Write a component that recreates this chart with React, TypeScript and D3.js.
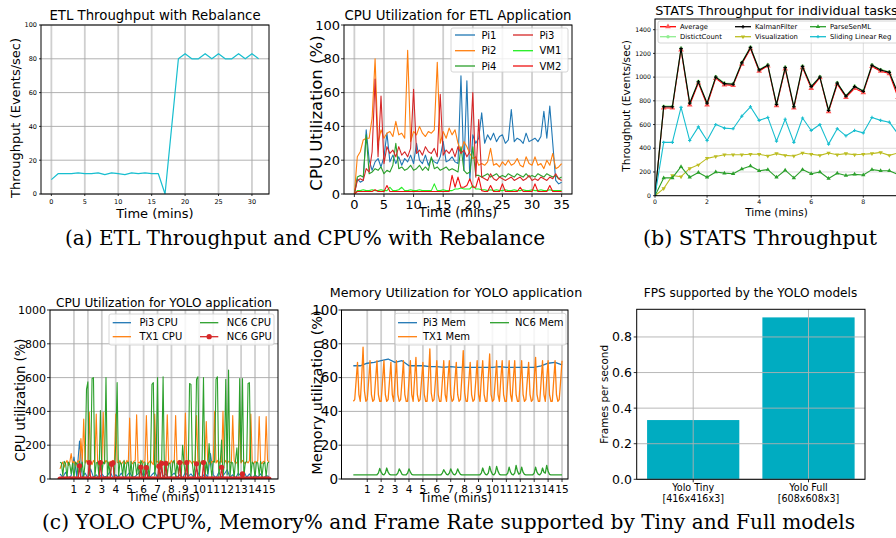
import React from "react";
import * as d3 from "d3";

const SANS = "'DejaVu Sans', 'Liberation Sans', sans-serif";
const SERIF = "'DejaVu Serif', 'Liberation Serif', serif";

// ---- (a) left: ETL throughput, one value per minute
const etlThroughput = [8.5, 12, 12, 12, 12.5, 12, 12, 12.5, 11.5, 12.5, 12, 11.5, 12.5, 12, 12.5, 12, 12, 0, 40, 80, 83, 80, 80, 83, 80, 83, 80, 80, 83, 80, 83, 80];

// ---- (a) right: CPU % for ETL, one value every 0.5 min
const cpuPi1 = [
  0, 9, 7, 8, 38, 20, 14, 19, 21, 16,
  22, 36, 19, 23, 18, 22, 17, 21, 19, 23,
  18, 30, 20, 18, 23, 17, 21, 19, 18, 22,
  31, 19, 20, 22, 19, 18, 70, 14, 67, 8,
  35, 30, 33, 48, 30, 35, 32, 36, 31, 34,
  35, 30, 32, 50, 31, 33, 32, 30, 36, 31,
  32, 33, 31, 34, 49, 33, 52, 30, 8, 6,
  7];
const cpuPi2 = [
  0, 22, 25, 32, 33, 33, 45, 80, 30, 38,
  33, 36, 37, 34, 43, 35, 36, 33, 85, 31,
  37, 35, 40, 36, 34, 37, 36, 38, 78, 30,
  37, 33, 39, 35, 38, 30, 25, 31, 28, 24,
  21, 22, 17, 18, 17, 19, 27, 17, 18, 16,
  19, 17, 20, 17, 18, 21, 17, 16, 22, 18,
  17, 22, 17, 18, 15, 20, 17, 24, 15, 16,
  18];
const cpuPi4 = [
  0, 10, 11, 10, 35, 12, 13, 15, 14, 16,
  12, 14, 13, 17, 30, 15, 16, 14, 15, 17,
  14, 15, 17, 14, 16, 14, 22, 15, 16, 14,
  15, 16, 14, 15, 14, 13, 28, 14, 12, 13,
  28, 11, 11, 10, 11, 12, 10, 11, 12, 10,
  11, 10, 12, 11, 10, 12, 11, 10, 12, 10,
  11, 10, 12, 11, 10, 12, 11, 10, 11, 9,
  10];
const cpuPi3 = [
  0, 8, 9, 8, 15, 13, 25, 68, 22, 58,
  18, 28, 24, 26, 22, 28, 23, 25, 22, 27,
  62, 24, 26, 23, 28, 25, 24, 27, 22, 59,
  23, 26, 24, 27, 22, 28, 24, 26, 22, 25,
  60, 10, 44, 10, 9, 8, 12, 9, 8, 10,
  9, 8, 9, 10, 8, 9, 10, 8, 9, 11,
  8, 9, 8, 10, 9, 8, 10, 9, 12, 9,
  8];
const cpuVM1 = [
  0, 2, 2, 2.5, 2, 2, 2.5, 2, 2, 2.5,
  2, 2, 4, 2, 2, 2.5, 4, 2, 2, 2.5,
  2, 2, 2.5, 2, 2, 2, 2, 6, 2, 2,
  2.5, 2, 2, 2, 3, 3, 3.5, 3, 3, 3,
  5, 3, 3, 2.5, 2.5, 2, 2.5, 2, 2.5, 2,
  2, 2.5, 2, 2, 2.5, 2, 2, 2.5, 2, 2,
  2.5, 2, 2, 2.5, 2, 2, 2.5, 2, 2, 2,
  2];
const cpuVM2 = [
  0, 1.5, 1.5, 1.5, 1.5, 1.5, 1.5, 2.5, 1.5, 1.5,
  1.5, 5, 1.5, 1.5, 1.5, 1.5, 1.5, 1.5, 1.5, 1.5,
  1.5, 1.5, 1.5, 1.5, 1.5, 1.5, 1.5, 1.5, 1.5, 1.5,
  1.5, 1.5, 1.5, 11, 4, 10, 4, 4, 5, 9,
  4, 4, 10, 2, 1.5, 1.5, 5, 1.5, 1.5, 1.5,
  6, 1.5, 1.5, 1.5, 1.5, 1.5, 4, 1.5, 1.5, 1.5,
  1.5, 6, 1.5, 1.5, 1.5, 1.5, 5, 1.5, 1.5, 1.5,
  1.5];

// ---- (b) STATS throughput, one value every 20 s
const statsAverage = [0, 740, 740, 1230, 765, 950, 765, 990, 935, 930, 1110, 1240, 1050, 1095, 760, 1070, 740, 1080, 905, 995, 710, 940, 830, 905, 870, 1090, 1050, 1030, 830];
const statsDistinct = [0, 755, 755, 1245, 785, 965, 785, 1005, 950, 945, 1125, 1255, 1065, 1105, 775, 1085, 755, 1095, 925, 1005, 725, 955, 845, 925, 885, 1105, 1065, 1045, 865];
const statsKalman = [0, 750, 750, 1240, 780, 960, 780, 1000, 945, 940, 1120, 1250, 1060, 1100, 770, 1080, 750, 1090, 920, 1000, 720, 950, 840, 920, 880, 1100, 1060, 1040, 860];
const statsVisual = [0, 60, 170, 160, 230, 260, 315, 330, 345, 345, 345, 350, 350, 335, 355, 340, 335, 360, 350, 340, 360, 345, 355, 345, 350, 355, 365, 340, 360];
const statsParse = [0, 150, 150, 245, 155, 195, 155, 200, 190, 185, 225, 250, 210, 220, 155, 215, 150, 220, 185, 200, 145, 190, 170, 180, 175, 220, 210, 210, 180];
const statsSliding = [0, 450, 450, 745, 465, 580, 465, 600, 570, 565, 670, 750, 635, 660, 460, 645, 450, 655, 550, 600, 435, 565, 505, 550, 530, 660, 635, 620, 520];

// ---- (c) YOLO CPU %, one value every 0.1 min (Pi3 every 0.2 min)
const yoloNc6Cpu = [
  100, 95, 20, 105, 90, 10, 100, 85, 30, 95,
  5, 100, 90, 15, 105, 40, 100, 10, 95, 530,
  575, 20, 100, 595, 600, 10, 95, 100, 5, 405,
  30, 100, 90, 600, 10, 100, 20, 95, 105, 15,
  210, 570, 5, 100, 90, 20, 110, 10, 95, 100,
  15, 105, 0, 95, 100, 25, 90, 5, 110, 95,
  10, 100, 30, 95, 5, 105, 560, 570, 20, 100,
  600, 10, 95, 100, 605, 0, 105, 20, 95, 90,
  5, 100, 110, 15, 95, 30, 100, 5, 200, 95,
  20, 105, 10, 565, 560, 95, 15, 100, 590, 605,
  20, 95, 110, 600, 5, 100, 30, 210, 95, 10,
  105, 100, 590, 605, 15, 95, 230, 10, 100, 590,
  25, 645, 10, 100, 95, 5, 110, 185, 20, 595,
  100, 595, 10, 95, 105, 565, 570, 15, 100, 90,
  5, 100, 95, 20, 105, 10, 90, 100, 15, 95,
  100];
const yoloTx1Cpu = [
  60, 85, 100, 70, 95, 110, 80, 100, 150, 90,
  105, 80, 95, 110, 85, 240, 100, 355, 95, 110,
  90, 395, 100, 85, 110, 95, 385, 100, 80, 105,
  95, 395, 90, 110, 100, 85, 105, 95, 110, 90,
  385, 100, 95, 110, 85, 100, 105, 90, 110, 95,
  360, 100, 90, 105, 110, 380, 95, 100, 85, 110,
  95, 105, 375, 90, 100, 110, 95, 85, 385, 100,
  105, 90, 110, 100, 95, 85, 105, 380, 100, 90,
  110, 95, 100, 375, 90, 105, 110, 95, 100, 85,
  390, 105, 95, 110, 100, 90, 105, 95, 375, 100,
  110, 90, 105, 95, 100, 340, 110, 95, 85, 105,
  100, 400, 95, 110, 90, 105, 100, 400, 95, 110,
  90, 105, 100, 95, 375, 110, 90, 100, 105, 400,
  95, 110, 100, 90, 105, 95, 110, 385, 100, 90,
  105, 95, 110, 370, 100, 90, 105, 95, 370, 110,
  100];
const yoloPi3Cpu = [
  30, 10, 40, 5, 20, 130, 15, 225, 10, 35,
  5, 60, 10, 25, 5, 30, 10, 20, 45, 5,
  25, 10, 35, 5, 20, 40, 10, 15, 30, 55,
  10, 60, 5, 25, 40, 10, 70, 15, 30, 5,
  20, 35, 10, 25, 5, 40, 15, 30, 10, 60,
  20, 5, 35, 10, 150, 25, 5, 40, 10, 30,
  55, 10, 25, 5, 35, 15, 45, 10, 30, 5,
  25, 10, 30, 5, 20, 15];
const yoloNc6Gpu = [
  0, 0, 0, 0, 0, 0, 0, 0, 0, 0,
  0, 0, 0, 0, 78, 0, 0, 0, 0, 0,
  0, 97, 0, 0, 0, 0, 0, 0, 0, 97,
  0, 0, 0, 0, 0, 0, 0, 88, 95, 0,
  0, 0, 0, 0, 0, 0, 0, 0, 0, 0,
  0, 0, 0, 0, 0, 0, 0, 0, 70, 0,
  0, 0, 67, 0, 0, 0, 0, 0, 0, 0,
  0, 76, 0, 93, 0, 0, 92, 0, 0, 0,
  0, 0, 0, 0, 0, 0, 97, 0, 0, 0,
  0, 97, 0, 0, 0, 0, 0, 0, 90, 0,
  0, 0, 0, 97, 0, 0, 0, 0, 0, 0,
  0, 0, 0, 0, 0, 0, 69, 0, 0, 0,
  0, 0, 0, 0, 0, 0, 0, 0, 0, 0,
  0, 30, 0, 0, 0, 0, 0, 0, 0, 0,
  0, 0, 0, 0, 0, 0, 0, 0, 0, 0,
  0];

// ---- (c) YOLO memory %, every 0.1 min (Pi3 every 0.5 min)
const memTx1 = [
  46, 47, 58, 69, 50, 46, 60, 78, 52, 46,
  47, 58, 70, 50, 46, 47, 59, 70, 50, 46,
  46, 58, 70, 50, 46, 47, 58, 69, 50, 46,
  59, 70, 50, 46, 47, 58, 70, 50, 46, 46,
  58, 70, 50, 46, 59, 72, 50, 46, 47, 58,
  69, 50, 46, 46, 60, 77, 51, 46, 47, 58,
  70, 50, 46, 46, 58, 70, 50, 46, 59, 70,
  50, 46, 47, 58, 69, 50, 46, 47, 60, 76,
  51, 46, 46, 58, 69, 50, 46, 47, 58, 70,
  50, 46, 59, 70, 50, 46, 46, 60, 74, 50,
  46, 47, 58, 70, 50, 46, 59, 70, 50, 46,
  46, 58, 70, 50, 46, 59, 70, 50, 46, 46,
  58, 70, 50, 46, 47, 58, 69, 50, 46, 47,
  59, 72, 50, 46, 46, 58, 70, 50, 46, 59,
  70, 50, 46, 46, 58, 70, 50, 46, 47, 58,
  70];
const memPi3 = [67, 67, 68.5, 69, 70, 71, 69, 70, 67, 67, 67, 66.5, 66.5, 66, 66.5, 66, 66, 66, 66, 66, 66, 66.5, 66, 66, 66, 66, 66, 67, 68.5, 69, 67.5];
const memNc6 = [
  2.5, 2.5, 2.5, 2.5, 2.5, 2.5, 2.5, 2.5, 2.5, 2.5,
  2.5, 2.5, 2.5, 2.5, 2.5, 2.5, 2.5, 2.5, 3.5, 6.3,
  4, 2.8, 2.5, 3.5, 6.5, 4, 2.8, 2.5, 2.5, 2.5,
  2.5, 2.5, 3.5, 6, 4.5, 2.8, 2.5, 2.5, 2.5, 3.5,
  6, 4, 2.8, 2.5, 2.5, 2.5, 2.5, 2.5, 2.5, 2.5,
  2.5, 2.5, 2.5, 2.5, 2.5, 2.5, 2.5, 2.5, 2.5, 2.5,
  2.5, 2.5, 2.5, 2.5, 3.5, 5.5, 4, 2.8, 2.5, 3.5,
  6, 4, 2.8, 2.5, 3.5, 6, 4, 2.8, 2.5, 2.5,
  2.5, 2.5, 2.5, 2.5, 2.5, 2.5, 2.5, 2.5, 2.5, 2.5,
  2.5, 2.5, 3.5, 6.5, 4, 2.8, 2.5, 3.5, 7.5, 4.5,
  2.8, 2.5, 3.5, 7.5, 4.5, 2.8, 2.5, 2.5, 2.5, 2.5,
  2.5, 3.5, 7, 4, 2.8, 2.5, 3.5, 8, 4.5, 2.8,
  3.5, 7, 4, 2.8, 2.5, 2.5, 2.5, 2.5, 2.5, 2.5,
  3.5, 7, 4, 2.8, 2.5, 3.5, 6.5, 4, 3.5, 8,
  4.5, 2.8, 2.5, 2.5, 2.5, 2.5, 2.5, 2.5, 2.5, 2.5,
  2.5];

// ---- (c) FPS bars
const fpsModels = ["Yolo Tiny", "Yolo Full"];
const fpsShapes = ["[416x416x3]", "[608x608x3]"];
const fpsValues = [0.333, 0.91];

const step = (vals: number[], dt: number) => vals.map((v, i) => [i * dt, v]);

type Box = { l: number; r: number; t: number; b: number };

function Txt({ x, y, size, children, anchor = "middle", family = SANS, rotate = false, len }: any) {
  return (
    <text
      x={rotate ? 0 : x}
      y={rotate ? 0 : y}
      transform={rotate ? `translate(${x},${y}) rotate(-90)` : undefined}
      fontSize={size}
      fontFamily={family}
      textAnchor={anchor}
      fill="#000"
      textLength={len}
      lengthAdjust={len ? "spacingAndGlyphs" : undefined}
    >
      {children}
    </text>
  );
}

function Axes({ id, box, x, y, xTicks, yTicks, xLabels, yLabels, xFont, yFont, xTickBase, yTickRight, tickLen, vGrid, hGrid, gridOnTop, children }: any) {
  const grid = (
    <g>
      {xTicks.map((t: number) => (
        <line key={"v" + t} x1={x(t)} x2={x(t)} y1={box.t} y2={box.b} stroke={vGrid[0]} strokeWidth={vGrid[1]} />
      ))}
      {yTicks.map((t: number) => (
        <line key={"h" + t} x1={box.l} x2={box.r} y1={y(t)} y2={y(t)} stroke={hGrid[0]} strokeWidth={hGrid[1]} />
      ))}
    </g>
  );
  return (
    <g>
      <defs>
        <clipPath id={id}>
          <rect x={box.l} y={box.t} width={box.r - box.l} height={box.b - box.t} />
        </clipPath>
      </defs>
      {!gridOnTop && grid}
      <g clipPath={`url(#${id})`}>{children}</g>
      {gridOnTop && grid}
      <rect x={box.l} y={box.t} width={box.r - box.l} height={box.b - box.t} fill="none" stroke="#000" strokeWidth={1} />
      {xTicks.map((t: number, i: number) => (
        <g key={"xt" + i}>
          <line x1={x(t)} x2={x(t)} y1={box.b} y2={box.b + tickLen} stroke="#000" strokeWidth={0.8} />
          {xLabels[i] !== undefined && (
            <Txt x={x(t)} y={xTickBase} size={xFont}>{xLabels[i]}</Txt>
          )}
        </g>
      ))}
      {yTicks.map((t: number, i: number) => (
        <g key={"yt" + i}>
          <line x1={box.l - tickLen} x2={box.l} y1={y(t)} y2={y(t)} stroke="#000" strokeWidth={0.8} />
          <Txt x={yTickRight} y={y(t) + yFont * 0.36} size={yFont} anchor="end">{yLabels[i]}</Txt>
        </g>
      ))}
    </g>
  );
}

function Series({ pts, x, y, color, width = 1.2 }: any) {
  const d = d3.line<number[]>().x((p) => x(p[0])).y((p) => y(p[1]))(pts) ?? "";
  return <path d={d} fill="none" stroke={color} strokeWidth={width} strokeLinejoin="round" />;
}

function Legend({ frame, items, colX, rowY, lineLen, gap, size }: any) {
  const nrows = rowY.length;
  return (
    <g>
      <rect x={frame[0]} y={frame[1]} width={frame[2] - frame[0]} height={frame[3] - frame[1]} rx={2} fill="#fff" fillOpacity={0.8} stroke="#cccccc" strokeWidth={0.8} />
      {items.map((it: any, i: number) => {
        const c = Math.floor(i / nrows);
        const r = i % nrows;
        const x0 = colX[c];
        const yy = rowY[r];
        return (
          <g key={i}>
            <line x1={x0} x2={x0 + lineLen} y1={yy} y2={yy} stroke={it.color} strokeWidth={1.3} />
            {it.mark && (
              <path d={it.mark} transform={`translate(${x0 + lineLen / 2},${yy}) rotate(${it.rot || 0})`} fill={it.mcolor || it.color} />
            )}
            <Txt x={x0 + lineLen + gap} y={yy + size * 0.36} size={size} anchor="start">{it.label}</Txt>
          </g>
        );
      })}
    </g>
  );
}

const tri = (s: number) => d3.symbol(d3.symbolTriangle, s)() as string;
const crs = (s: number) => d3.symbol(d3.symbolCross, s)() as string;
const dot = (s: number) => d3.symbol(d3.symbolCircle, s)() as string;

export default function App() {
  // (a) ETL throughput
  const B1: Box = { l: 41, r: 269, t: 25, b: 194 };
  const x1 = d3.scaleLinear().domain([-1.55, 32.55]).range([B1.l, B1.r]);
  const y1 = d3.scaleLinear().domain([0, 100]).range([B1.b, B1.t]);

  // (a) ETL CPU
  const B2: Box = { l: 344, r: 572, t: 25, b: 194 };
  const x2 = d3.scaleLinear().domain([-1.75, 36.75]).range([B2.l, B2.r]);
  const y2 = d3.scaleLinear().domain([0, 100]).range([B2.b, B2.t]);
  const etlSeries = [
    { label: "Pi1", vals: cpuPi1, color: "#1f77b4" },
    { label: "Pi2", vals: cpuPi2, color: "#ff7f0e" },
    { label: "Pi4", vals: cpuPi4, color: "#2ca02c" },
    { label: "Pi3", vals: cpuPi3, color: "#d62728" },
    { label: "VM1", vals: cpuVM1, color: "#22ee22" },
    { label: "VM2", vals: cpuVM2, color: "#ee1111" },
  ];

  // (b) STATS
  const B3: Box = { l: 655, r: 898, t: 19, b: 195.7 };
  const x3 = d3.scaleLinear().domain([0, 28 / 3]).range([B3.l, B3.r]);
  const y3 = d3.scaleLinear().domain([0, 1490]).range([B3.b, B3.t]);
  const statsSeries = [
    { label: "Average", vals: statsAverage, color: "#ff0000", mark: tri(14), mcolor: "#ff5555" },
    { label: "DistictCount", vals: statsDistinct, color: "#90ee90", mark: dot(9) },
    { label: "KalmanFilter", vals: statsKalman, color: "#000000", mark: crs(7) },
    { label: "Visualization", vals: statsVisual, color: "#bcbd22", mark: tri(8), rot: 180 },
    { label: "ParseSenML", vals: statsParse, color: "#2ca02c", mark: tri(8) },
    { label: "Sliding Linear Reg", vals: statsSliding, color: "#17becf", mark: crs(6) },
  ];

  // (c) YOLO CPU
  const B4: Box = { l: 50, r: 278, t: 310, b: 479 };
  const x4 = d3.scaleLinear().domain([-0.72, 15.65]).range([B4.l, B4.r]);
  const y4 = d3.scaleLinear().domain([0, 1000]).range([B4.b, B4.t]);
  const minuteTicks = d3.range(1, 16);

  // (c) YOLO memory
  const B5: Box = { l: 341.5, r: 568, t: 310, b: 479 };
  const x5 = d3.scaleLinear().domain([-0.85, 15.43]).range([B5.l, B5.r]);
  const y5 = d3.scaleLinear().domain([0, 100]).range([B5.b, B5.t]);

  // (c) FPS
  const B6: Box = { l: 636.7, r: 865, t: 309.3, b: 479.3 };
  const x6 = d3.scaleLinear().domain([-0.49, 1.49]).range([B6.l, B6.r]);
  const y6 = d3.scaleLinear().domain([0, 0.9555]).range([B6.b, B6.t]);

  const pct = [0, 20, 40, 60, 80, 100];
  const vThick = ["#cfcfcf", 1.8];
  const hThin = ["#a9a9a9", 0.9];

  return (
    <svg width={896} height={538} style={{ position: "absolute", left: 0, top: 0, background: "#fff" }}>
      <rect width={896} height={538} fill="#fff" />

      {/* ---------- (a) ETL throughput ---------- */}
      <Txt x={155} y={19.5} size={13.3}>ETL Throughput with Rebalance</Txt>
      <Axes id="c1" box={B1} x={x1} y={y1} xTicks={[0, 5, 10, 15, 20, 25, 30]} yTicks={pct}
        xLabels={["0", "5", "10", "15", "20", "25", "30"]} yLabels={pct.map(String)}
        xFont={6.5} yFont={6.5} xTickBase={204} yTickRight={37} tickLen={2} vGrid={vThick} hGrid={hThin}>
        <Series pts={step(etlThroughput, 1)} x={x1} y={y1} color="#17becf" width={1.2} />
      </Axes>
      <Txt x={19.5} y={118} size={13} rotate>Throughput (Events/sec)</Txt>
      <Txt x={155} y={217.5} size={13}>Time (mins)</Txt>

      {/* ---------- (a) ETL CPU ---------- */}
      <Txt x={458} y={19.5} size={13.3}>CPU Utilization for ETL Application</Txt>
      <Axes id="c2" box={B2} x={x2} y={y2} xTicks={[0, 5, 10, 15, 20, 25, 30, 35]} yTicks={pct}
        xLabels={["0", "5", "10", "15", "20", "25", "30", "35"]} yLabels={pct.map(String)}
        xFont={13} yFont={13} xTickBase={208.5} yTickRight={340} tickLen={3} vGrid={vThick} hGrid={hThin}>
        {etlSeries.map((s) => (
          <Series key={s.label} pts={step(s.vals, 0.5)} x={x2} y={y2} color={s.color} width={1.1} />
        ))}
      </Axes>
      <Legend frame={[451, 28, 568, 72]} items={etlSeries} colX={[455, 513]} rowY={[35, 50.7, 66]} lineLen={20} gap={6.5} size={10} />
      <Txt x={322} y={113} size={16.5} rotate>CPU Utilization (%)</Txt>
      <Txt x={458} y={217} size={13.2}>Time (mins)</Txt>

      {/* ---------- (b) STATS ---------- */}
      <Txt x={776.5} y={15} size={12.8}>STATS Throughput for individual tasks</Txt>
      <Axes id="c3" box={B3} x={x3} y={y3} xTicks={[0, 2, 4, 6, 8]} yTicks={[0, 200, 400, 600, 800, 1000, 1200, 1400]}
        xLabels={["0", "2", "4", "6", "8"]} yLabels={["0", "200", "400", "600", "800", "1000", "1200", "1400"]}
        xFont={6.2} yFont={6.2} xTickBase={204} yTickRight={651} tickLen={2} vGrid={["#dcdcdc", 1]} hGrid={["#dcdcdc", 1]}>
        {statsSeries.map((s) => (
          <g key={s.label}>
            <Series pts={step(s.vals, 1 / 3)} x={x3} y={y3} color={s.color} width={1.1} />
            {s.vals.map((v, i) => (
              <path key={i} d={s.mark} transform={`translate(${x3(i / 3)},${y3(v)}) rotate(${s.rot || 0})`} fill={s.mcolor || s.color} />
            ))}
          </g>
        ))}
      </Axes>
      <Legend frame={[658, 21, 910, 43]} items={statsSeries} colX={[660, 735, 810]} rowY={[26.7, 36.7]} lineLen={16} gap={4} size={6.8} />
      <Txt x={629.5} y={106} size={10.7} rotate>Throughput (Events/sec)</Txt>
      <Txt x={776.5} y={216} size={10.5}>Time (mins)</Txt>

      {/* ---------- (c) YOLO CPU ---------- */}
      <Txt x={164} y={306.5} size={12.1}>CPU Utilization for YOLO application</Txt>
      <Axes id="c4" box={B4} x={x4} y={y4} xTicks={minuteTicks} yTicks={[0, 200, 400, 600, 800, 1000]}
        xLabels={minuteTicks.map(String)} yLabels={["0", "200", "400", "600", "800", "1000"]}
        xFont={10.5} yFont={11} xTickBase={493.3} yTickRight={46} tickLen={3} vGrid={vThick} hGrid={hThin}>
        <Series pts={step(yoloPi3Cpu, 0.2)} x={x4} y={y4} color="#1f77b4" width={1.1} />
        <Series pts={step(yoloTx1Cpu, 0.1)} x={x4} y={y4} color="#ff7f0e" width={1.1} />
        <Series pts={step(yoloNc6Cpu, 0.1)} x={x4} y={y4} color="#2ca02c" width={1.1} />
        <Series pts={step(yoloNc6Gpu, 0.1)} x={x4} y={y4} color="#d62728" width={1.2} />
        {yoloNc6Gpu.map((v, i) => (
          <circle key={i} cx={x4(i * 0.1)} cy={y4(v)} r={2.6} fill="#d62728" />
        ))}
      </Axes>
      <Legend frame={[109, 314, 274, 345]}
        items={[
          { label: "Pi3 CPU", color: "#1f77b4" },
          { label: "TX1 CPU", color: "#ff7f0e" },
          { label: "NC6 CPU", color: "#2ca02c" },
          { label: "NC6 GPU", color: "#d62728", mark: dot(22) },
        ]}
        colX={[112.7, 200]} rowY={[322.7, 336.7]} lineLen={18.3} gap={8.4} size={10} />
      <Txt x={25} y={400} size={13.2} rotate>CPU utilization (%)</Txt>
      <Txt x={164} y={501} size={12}>Time (mins)</Txt>

      {/* ---------- (c) YOLO memory ---------- */}
      <Txt x={456} y={297.3} size={12.7}>Memory Utilization for YOLO application</Txt>
      <Axes id="c5" box={B5} x={x5} y={y5} xTicks={minuteTicks} yTicks={pct}
        xLabels={minuteTicks.map(String)} yLabels={pct.map(String)}
        xFont={10.5} yFont={13.5} xTickBase={493.3} yTickRight={338} tickLen={3} vGrid={vThick} hGrid={hThin}>
        <Series pts={step(memPi3, 0.5)} x={x5} y={y5} color="#1f77b4" width={1.3} />
        <Series pts={step(memTx1, 0.1)} x={x5} y={y5} color="#ff7f0e" width={1.3} />
        <Series pts={step(memNc6, 0.1)} x={x5} y={y5} color="#2ca02c" width={1.3} />
      </Axes>
      <Legend frame={[395, 313.3, 566, 345]}
        items={[
          { label: "Pi3 Mem", color: "#1f77b4" },
          { label: "TX1 Mem", color: "#ff7f0e" },
          { label: "NC6 Mem", color: "#2ca02c" },
        ]}
        colX={[398, 490]} rowY={[322.7, 336.7]} lineLen={19} gap={6} size={10} />
      <Txt x={322} y={392.5} size={14.5} rotate>Memory utilization (%)</Txt>
      <Txt x={456} y={502} size={12.1}>Time (mins)</Txt>

      {/* ---------- (c) FPS ---------- */}
      <Txt x={750.5} y={297.3} size={12.1}>FPS supported by the YOLO models</Txt>
      <Axes id="c6" box={B6} x={x6} y={y6} xTicks={[0, 1]} yTicks={[0, 0.2, 0.4, 0.6, 0.8]}
        xLabels={[]} yLabels={["0.0", "0.2", "0.4", "0.6", "0.8"]}
        xFont={9.6} yFont={12.5} xTickBase={491} yTickRight={632} tickLen={3} vGrid={["#b0b0b0", 0.9]} hGrid={["#b0b0b0", 0.9]} gridOnTop>
        {fpsValues.map((v, i) => (
          <rect key={i} x={x6(i - 0.4)} y={y6(v)} width={x6(i + 0.4) - x6(i - 0.4)} height={y6(0) - y6(v)} fill="#00acc1" />
        ))}
      </Axes>
      {fpsModels.map((m, i) => (
        <g key={m}>
          <Txt x={x6(i)} y={491} size={9.6}>{m}</Txt>
          <Txt x={x6(i)} y={501.7} size={9.6}>{fpsShapes[i]}</Txt>
        </g>
      ))}
      <Txt x={608} y={394.3} size={10.4} rotate>Frames per second</Txt>

      {/* ---------- captions ---------- */}
      <Txt x={65} y={245} size={20} anchor="start" family={SERIF} len={480}>(a) ETL Throughput and CPU% with Rebalance</Txt>
      <Txt x={643} y={245} size={20} anchor="start" family={SERIF} len={234}>(b) STATS Throughput</Txt>
      <Txt x={42} y={529} size={20} anchor="start" family={SERIF} len={813}>(c) YOLO CPU%, Memory% and Frame Rate supported by Tiny and Full models</Txt>
    </svg>
  );
}
